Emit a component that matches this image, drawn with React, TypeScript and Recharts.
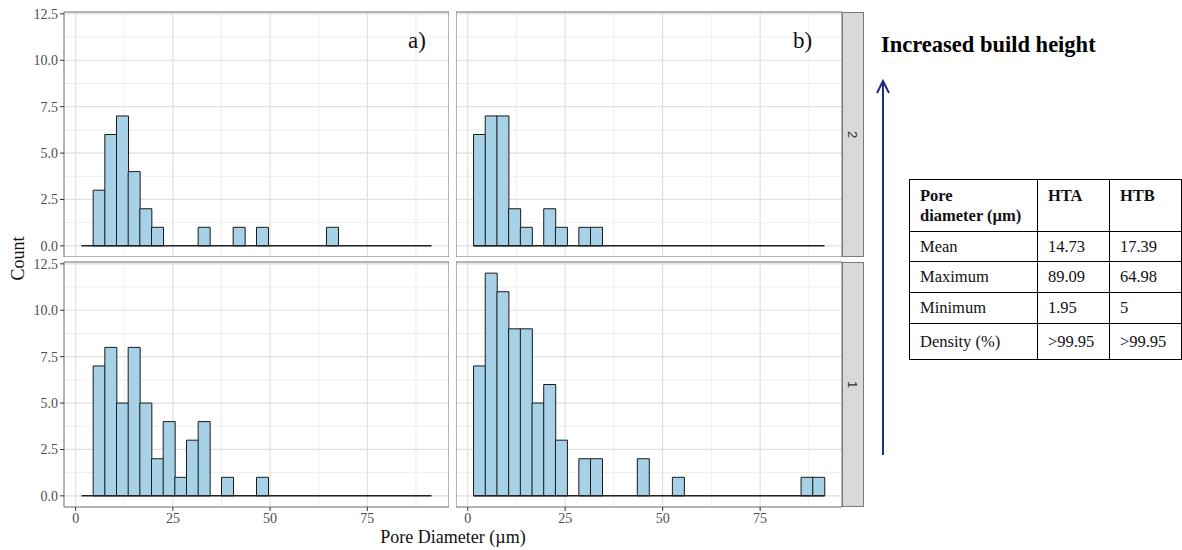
import React from "react"
import { BarChart, Bar, XAxis, YAxis, CartesianGrid, ReferenceLine, ReferenceArea } from "recharts"

// 3 µm bins, shared by all four panels
const binCenters = [3, 6, 9, 12, 15, 18, 21, 24, 27, 30, 33, 36, 39, 42, 45, 48, 51, 54, 57, 60, 63, 66, 69, 72, 75, 78, 81, 84, 87, 90]
const binRange = [1.5, 91.5]

// pore counts per bin
const countsTopA = [0, 3, 6, 7, 4, 2, 1, 0, 0, 0, 1, 0, 0, 1, 0, 1, 0, 0, 0, 0, 0, 1, 0, 0, 0, 0, 0, 0, 0, 0]
const countsTopB = [6, 7, 7, 2, 1, 0, 2, 1, 0, 1, 1, 0, 0, 0, 0, 0, 0, 0, 0, 0, 0, 0, 0, 0, 0, 0, 0, 0, 0, 0]
const countsBottomA = [0, 7, 8, 5, 8, 5, 2, 4, 1, 3, 4, 0, 1, 0, 0, 1, 0, 0, 0, 0, 0, 0, 0, 0, 0, 0, 0, 0, 0, 0]
const countsBottomB = [7, 12, 11, 9, 9, 5, 6, 3, 0, 2, 2, 0, 0, 0, 2, 0, 0, 1, 0, 0, 0, 0, 0, 0, 0, 0, 0, 0, 1, 1]

const xDomain = [-3, 96]
const yDomain = [-0.6, 12.6]
const xTicks = [0, 25, 50, 75]
const xMinor = [12.5, 37.5, 62.5, 87.5]
const yTicks = [0, 2.5, 5, 7.5, 10, 12.5]
const yMinor = [1.25, 3.75, 6.25, 8.75, 11.25]

const tableHead = ["HTA", "HTB"]
const tableRows = [
  ["Mean", "14.73", "17.39"],
  ["Maximum", "89.09", "64.98"],
  ["Minimum", "1.95", "5"],
  ["Density (%)", ">99.95", ">99.95"],
]

const SERIF = '"Liberation Serif", "Times New Roman", serif'
const PLOT_H = 245
const Y_AXIS_W = 64
const X_AXIS_H = 25
const TOP_M = 12

interface PanelProps {
  counts: number[]
  left: number
  top: number
  plotW: number
  showY: boolean
  showX: boolean
}

function Panel({ counts, left, top, plotW, showY, showX }: PanelProps) {
  const rows = binCenters.map((c, i) => ({ center: c, count: counts[i] }))
  const width = plotW + (showY ? Y_AXIS_W : 0)
  const height = TOP_M + PLOT_H + (showX ? X_AXIS_H : 0)
  const tickStyle = { fill: "#4D4D4D", fontSize: 14, fontFamily: SERIF }

  return (
    <div style={{ position: "absolute", left, top }}>
      <BarChart
        width={width}
        height={height}
        data={rows}
        margin={{ top: TOP_M, right: 0, bottom: 0, left: 0 }}
        barCategoryGap={0}
        barGap={0}
      >
        <CartesianGrid verticalValues={xMinor} horizontalValues={yMinor} stroke="#EFEFEF" />
        <CartesianGrid verticalValues={xTicks} horizontalValues={yTicks} stroke="#E0E0E0" strokeWidth={1.2} />
        <XAxis
          dataKey="center"
          type="number"
          domain={xDomain}
          allowDataOverflow
          ticks={xTicks}
          hide={!showX}
          height={X_AXIS_H}
          axisLine={false}
          tickSize={4}
          tickMargin={2}
          tickLine={{ stroke: "#333" }}
          tick={tickStyle}
        />
        <YAxis
          type="number"
          domain={yDomain}
          allowDataOverflow
          ticks={yTicks}
          hide={!showY}
          width={Y_AXIS_W}
          axisLine={false}
          tickSize={4}
          tickMargin={2}
          tickLine={{ stroke: "#333" }}
          tick={tickStyle}
          tickFormatter={(v: number) => v.toFixed(1)}
        />
        <Bar dataKey="count" fill="#A6D1E6" stroke="#1A1A1A" strokeWidth={1} isAnimationActive={false} />
        <ReferenceLine
          segment={[{ x: binRange[0], y: 0 }, { x: binRange[1], y: 0 }]}
          stroke="#222"
          strokeWidth={1.5}
          ifOverflow="visible"
        />
        <ReferenceArea
          x1={xDomain[0]}
          x2={xDomain[1]}
          y1={yDomain[0]}
          y2={yDomain[1]}
          fill="none"
          fillOpacity={0}
          stroke="#6A6A6A"
          strokeWidth={1}
          ifOverflow="visible"
        />
      </BarChart>
    </div>
  )
}

function Strip({ top, label }: { top: number; label: string }) {
  return (
    <div
      style={{
        position: "absolute",
        left: 842,
        top: top,
        width: 22,
        height: PLOT_H,
        boxSizing: "border-box",
        background: "#D9D9D9",
        border: "1px solid #7A7A7A",
        display: "flex",
        alignItems: "center",
        justifyContent: "center",
      }}
    >
      <span style={{ transform: "rotate(90deg)", fontFamily: '"Liberation Sans", sans-serif', fontSize: 13, color: "#333" }}>
        {label}
      </span>
    </div>
  )
}

export default function App() {
  const cell: React.CSSProperties = {
    border: "1.5px solid #000",
    padding: "0 0 0 10px",
    textAlign: "left",
    fontFamily: SERIF,
    fontSize: 16.5,
    color: "#111",
  }
  const rowH = [30, 31, 31, 36]
  return (
    <div style={{ position: "absolute", left: 0, top: 0, width: 1182, height: 550, background: "#fff", fontFamily: SERIF }}>
      <Panel counts={countsTopA} left={0} top={0} plotW={385} showY showX={false} />
      <Panel counts={countsTopB} left={456} top={0} plotW={386} showY={false} showX={false} />
      <Panel counts={countsBottomA} left={0} top={250} plotW={385} showY showX />
      <Panel counts={countsBottomB} left={456} top={250} plotW={386} showY={false} showX />
      <Strip top={12} label="2" />
      <Strip top={262} label="1" />

      <div style={{ position: "absolute", left: 408, top: 28, fontSize: 23, color: "#111" }}>a)</div>
      <div style={{ position: "absolute", left: 793, top: 28, fontSize: 23, color: "#111" }}>b)</div>

      <div
        style={{
          position: "absolute",
          left: -12,
          top: 248,
          width: 60,
          textAlign: "center",
          transform: "rotate(-90deg)",
          fontSize: 18,
          color: "#111",
        }}
      >
        Count
      </div>
      <div style={{ position: "absolute", left: 253, top: 527, width: 400, textAlign: "center", fontSize: 18, color: "#111" }}>
        Pore Diameter (µm)
      </div>

      <div style={{ position: "absolute", left: 881, top: 32, fontSize: 22.5, fontWeight: "bold", color: "#000", whiteSpace: "nowrap" }}>
        Increased build height
      </div>
      <svg style={{ position: "absolute", left: 873, top: 76 }} width={20} height={382}>
        <line x1={10} y1={5} x2={10} y2={379} stroke="#1B2F8A" strokeWidth={2} />
        <polyline points="4,17 10,5 16,17" fill="none" stroke="#1B2F8A" strokeWidth={2} />
      </svg>

      <table style={{ position: "absolute", left: 909, top: 179, borderCollapse: "collapse" }}>
        <tbody>
          <tr style={{ height: 52 }}>
            <td style={{ ...cell, width: 120, fontWeight: "bold", verticalAlign: "top", paddingTop: 6, lineHeight: "20px" }}>
              Pore
              <br />
              diameter (µm)
            </td>
            {tableHead.map((h) => (
              <td key={h} style={{ ...cell, width: 62, fontWeight: "bold", verticalAlign: "top", paddingTop: 6, lineHeight: "20px" }}>
                {h}
              </td>
            ))}
          </tr>
          {tableRows.map((r, i) => (
            <tr key={r[0]} style={{ height: rowH[i] }}>
              {r.map((v, j) => (
                <td key={j} style={{ ...cell, verticalAlign: "middle" }}>
                  {v}
                </td>
              ))}
            </tr>
          ))}
        </tbody>
      </table>
    </div>
  )
}
